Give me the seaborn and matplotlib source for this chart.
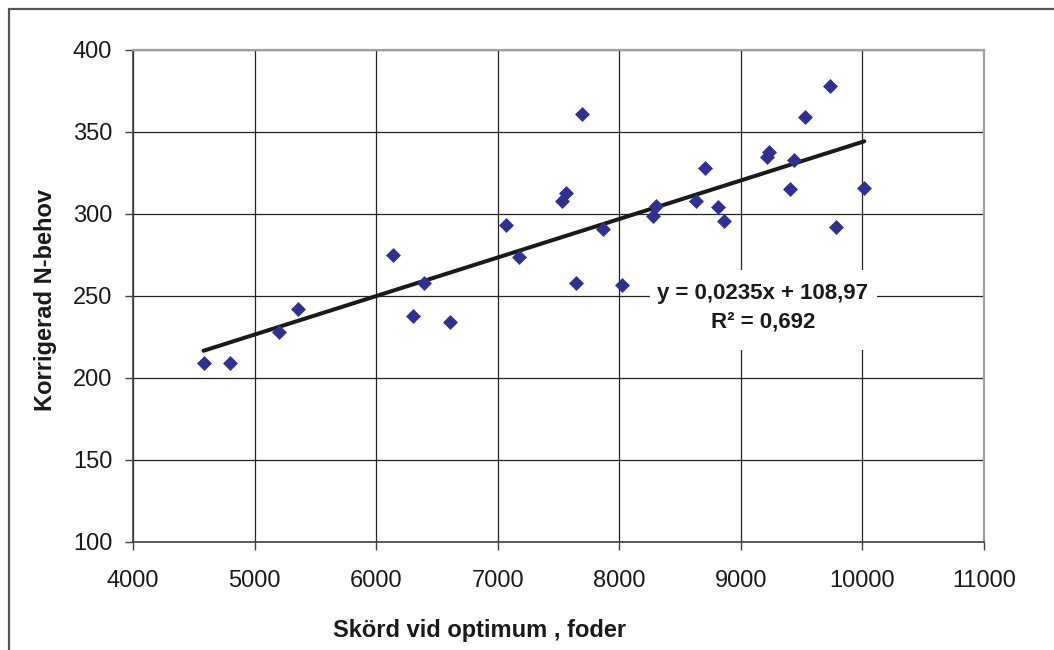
import matplotlib
matplotlib.use("Agg")
import matplotlib.pyplot as plt
import seaborn as sns
import pandas as pd
from matplotlib.lines import Line2D
from matplotlib.patches import Rectangle

# ---- data ----
skord = [4580, 4800, 5200, 5360, 6140, 6300, 6390, 6610, 7070, 7175,
         7530, 7560, 7645, 7690, 7865, 8020, 8275, 8300, 8630, 8705,
         8815, 8860, 9215, 9235, 9405, 9440, 9530, 9735, 9780, 10015]
nbehov = [209, 209, 228, 242, 275, 237.5, 258, 234, 293, 274,
          308, 313, 258, 361, 291, 257, 299, 305, 308, 328,
          304, 296, 335, 338, 315, 333, 359, 378, 292, 316]
slope = 0.0235
intercept = 108.97
eq_lines = ["y = 0,0235x + 108,97", "R\u00b2 = 0,692"]
x_ticks = [4000, 5000, 6000, 7000, 8000, 9000, 10000, 11000]
y_ticks = [100, 150, 200, 250, 300, 350, 400]
x_label = "Skörd vid optimum , foder"
y_label = "Korrigerad N-behov"

df = pd.DataFrame({"x": skord, "y": nbehov})
xmin, xmax = min(skord), max(skord)
fit = pd.DataFrame({"x": [xmin, xmax],
                    "y": [slope * xmin + intercept, slope * xmax + intercept]})

sns.set_theme(style="white")
plt.rcParams["font.family"] = ["Liberation Sans", "DejaVu Sans"]

fig = plt.figure(figsize=(10.54, 6.5), dpi=100)
fig.patch.set_facecolor("white")
ax = fig.add_axes([133 / 1054, 1 - 542 / 650, (984 - 133) / 1054, (542 - 50) / 650])

ax.set_xlim(4000, 11000)
ax.set_ylim(100, 400)
ax.set_xticks(x_ticks)
ax.set_yticks(y_ticks)
ax.grid(True, color="#222222", linewidth=0.9, zorder=0)
ax.set_axisbelow(True)

# white box behind the equation
ax.add_patch(Rectangle((0.608, 0.390), 0.266, 0.163, transform=ax.transAxes,
                       facecolor="white", edgecolor="none", zorder=1.5))

sns.lineplot(data=fit, x="x", y="y", ax=ax, color="#1a1a1a", linewidth=2.9, zorder=3)
sns.scatterplot(data=df, x="x", y="y", ax=ax, marker="D", s=58,
                color="#2E3192", edgecolor="#2E3192", linewidth=0, zorder=4)

ax.text(0.740, 0.4756, "\n".join(eq_lines), transform=ax.transAxes,
        ha="center", va="center", fontsize=16, fontweight="bold",
        color="#1a1a1a", linespacing=1.45, zorder=5)

ax.set_xlabel("")
ax.set_ylabel("")
ax.tick_params(axis="both", direction="out", length=6, width=1, color="#404040",
               labelsize=17, labelcolor="#1a1a1a", left=True, bottom=True)
ax.tick_params(axis="x", pad=14)
ax.tick_params(axis="y", pad=9)

for side in ["left", "bottom"]:
    ax.spines[side].set_color("#404040")
    ax.spines[side].set_linewidth(1.2)
for side in ["top", "right"]:
    ax.spines[side].set_color("#a0a0a0")
    ax.spines[side].set_linewidth(1.6)

fig.text(480 / 1054, 1 - 631 / 650, x_label, ha="center", va="center",
         fontsize=17, fontweight="bold", color="#1a1a1a")
fig.text(46 / 1054, 1 - 300 / 650, y_label, ha="center", va="center",
         rotation=90, fontsize=17, fontweight="bold", color="#1a1a1a")

# outer chart frame (top and left visible)
fig.add_artist(Line2D([9 / 1054, 1.0], [1 - 9 / 650, 1 - 9 / 650],
                      transform=fig.transFigure, color="#555555", linewidth=1.6))
fig.add_artist(Line2D([9 / 1054, 9 / 1054], [0.0, 1 - 9 / 650],
                      transform=fig.transFigure, color="#555555", linewidth=1.6))

fig.savefig("out.png", dpi=100, facecolor="white")
